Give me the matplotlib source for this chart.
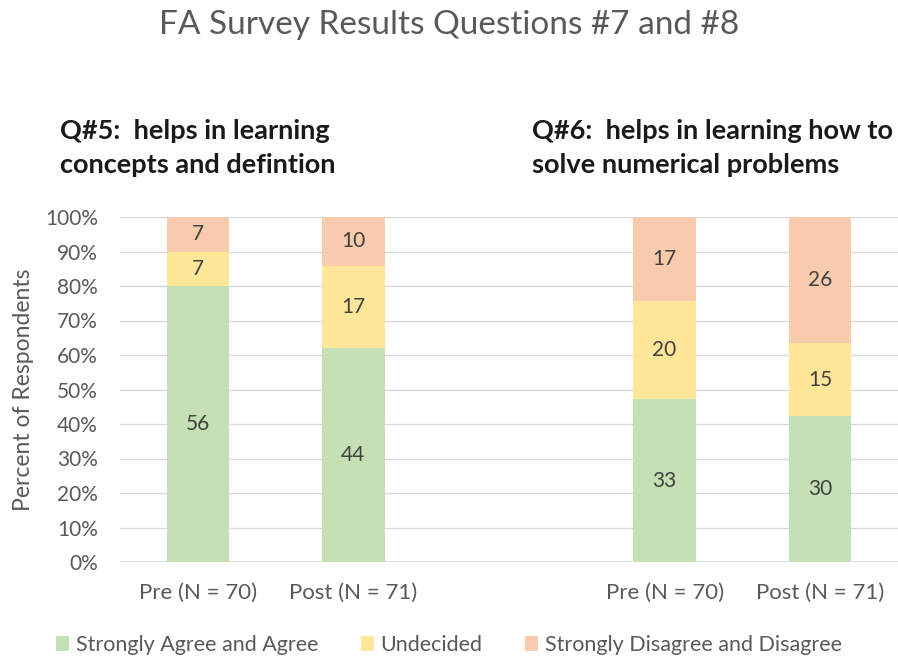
import matplotlib
matplotlib.use("Agg")
import matplotlib.pyplot as plt
import numpy as np

plt.rcParams['font.family'] = ['Lato', 'DejaVu Sans']

categories = ["Pre (N = 70)", "Post (N = 71)", "", "Pre (N = 70)", "Post (N = 71)"]
series_names = ["Strongly Agree and Agree", "Undecided", "Strongly Disagree and Disagree"]
agree = [56, 44, 0, 33, 30]
undecided = [7, 17, 0, 20, 15]
disagree = [7, 10, 0, 17, 26]
colors = ["#C5E0B4", "#FFE699", "#F8CBAD"]
title = "FA Survey Results Questions #7 and #8"
sub5 = "Q#5:  helps in learning\nconcepts and defintion"
sub6 = "Q#6:  helps in learning how to\nsolve numerical problems"

counts = np.array([agree, undecided, disagree], dtype=float)
totals = counts.sum(axis=0)
fracs = np.divide(counts, totals, out=np.zeros_like(counts), where=totals > 0)

fig = plt.figure(figsize=(8.98, 6.61), dpi=100)
ax = fig.add_axes([120/898, 1-562/661, 778/898, 345/661])

x = np.arange(len(categories))
bottom = np.zeros(len(categories))
for i in range(3):
    mask = totals > 0
    ax.bar(x[mask], fracs[i][mask], bottom=bottom[mask], width=0.4,
           color=colors[i], label=series_names[i], zorder=3)
    for xi, f, b, c in zip(x, fracs[i], bottom, counts[i]):
        if c > 0:
            ax.text(xi, b + f/2, f"{int(c)}", ha='center', va='center',
                    fontsize=15, color="#404040", zorder=4)
    bottom += fracs[i]

ax.set_xlim(-0.5, 4.5)
ax.set_ylim(0, 1)
ax.set_yticks(np.arange(0, 1.01, 0.1))
ax.set_yticklabels([f"{int(round(v*100))}%" for v in np.arange(0, 1.01, 0.1)],
                   fontsize=15, color="#595959")
ax.set_xticks(x)
ax.set_xticklabels(categories, fontsize=16, color="#595959")
ax.tick_params(axis='both', length=0)
ax.tick_params(axis='x', pad=15)
ax.tick_params(axis='y', pad=16)
ax.grid(axis='y', color="#D9D9D9", linewidth=1, zorder=0)
for s in ax.spines.values():
    s.set_visible(False)
ax.axhline(0, color="#D9D9D9", linewidth=1.2, zorder=2)

ax.set_ylabel("Percent of Respondents", fontsize=16.5, color="#595959", labelpad=8)

fig.text(0.5, 1-25/661, title, ha='center', va='center', fontsize=24, color="#595959")
fig.text(60/898, 1-148/661, sub5, ha='left', va='center', fontsize=19.5,
         fontweight='bold', color="#1a1a1a", linespacing=1.5)
fig.text(532/898, 1-148/661, sub6, ha='left', va='center', fontsize=19.5,
         fontweight='bold', color="#1a1a1a", linespacing=1.5)

handles, labels = ax.get_legend_handles_labels()
fig.legend(handles, labels, loc='center', bbox_to_anchor=(0.5, 1-645/661), ncol=3,
           frameon=False, fontsize=15.5, labelcolor="#595959",
           handlelength=0.6, handleheight=0.7, handletextpad=0.3, columnspacing=2.0)

fig.savefig("out.png", dpi=100)
